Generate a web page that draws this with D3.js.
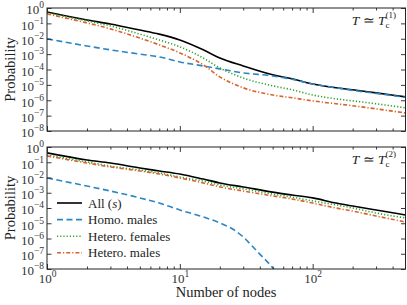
<!DOCTYPE html>
<html>
<head>
<meta charset="utf-8">
<script src="https://cdn.jsdelivr.net/npm/d3@7"></script>
<style>
body { margin:0; background:#fff; }
</style>
</head>
<body>
<svg id="basicSVG" width="407" height="305"></svg>
<script>
// node counts (x values)
var nodes = [1,2,3,5,7,10,15,20,30,50,70,100,150,200,300,500];
var nodesHomo2 = [1,2,3,5,7,10,15,20,25,30,35,40,50,60];

// panel 1 : T ~ Tc(1)
var allTop     = [0.55,0.166,0.091,0.037,0.020,8.3e-3,1.9e-3,5.6e-4,1.7e-4,4.5e-5,2.5e-5,1.15e-5,6.5e-6,4.8e-6,3.0e-6,1.66e-6];
var homoTop    = [9.8e-3,3.4e-3,1.9e-3,1.0e-3,6.6e-4,3.1e-4,1.7e-4,1.1e-4,6.0e-5,3.8e-5,2.3e-5,1.15e-5,6.5e-6,4.4e-6,2.8e-6,1.55e-6];
var femTop     = [0.48,0.145,0.068,0.020,8.3e-3,3.0e-3,5.6e-4,1.26e-4,2.8e-5,8.7e-6,4.8e-6,2.2e-6,1.23e-6,9.1e-7,5.9e-7,3.2e-7];
var maleTop    = [0.41,0.107,0.044,0.011,4.0e-3,1.2e-3,2.0e-4,3.3e-5,6.5e-6,2.2e-6,1.45e-6,9.1e-7,5.9e-7,4.4e-7,2.75e-7,1.5e-7];

// panel 2 : T ~ Tc(2)
var allBot     = [0.41,0.14,0.089,0.042,0.027,0.017,7.9e-3,4.4e-3,2.4e-3,1.1e-3,7.1e-4,4.6e-4,2.1e-4,1.35e-4,7.4e-5,3.5e-5];
var homoBot    = [9.3e-3,2.75e-3,1.3e-3,4.6e-4,2.1e-4,7.4e-5,2.6e-5,1.05e-5,4.2e-6,1.26e-6,3.2e-7,9.5e-8,1.2e-8,1.4e-9];
var femBot     = [0.30,0.105,0.056,0.031,0.020,0.0107,5.9e-3,3.2e-3,1.8e-3,8.3e-4,5.2e-4,2.9e-4,1.6e-4,1.0e-4,4.7e-5,2.2e-5];
var maleBot    = [0.26,0.089,0.049,0.027,0.017,9.3e-3,4.4e-3,2.4e-3,1.3e-3,6.2e-4,3.9e-4,2.1e-4,1.0e-4,6.3e-5,3.0e-5,1.2e-5];

var seriesNames = ["All (s)","Homo. males","Hetero. females","Hetero. males"];
var xTickValues = [1,10,100];
var yTickValues = [1,1e-1,1e-2,1e-3,1e-4,1e-5,1e-6,1e-7,1e-8];

var FONT = "Liberation Serif";

var styles = [
	{color:"#000000", dash:null, w:1.6},
	{color:"#2b86c4", dash:"6,3.5", w:1.6},
	{color:"#2ca02c", dash:"1.2,2", w:1.6},
	{color:"#d9622b", dash:"4,2,1.2,2", w:1.6}
];

var svg = d3.select("#basicSVG");
var x = d3.scaleLog().domain([1,500]).range([47,405.5]);

var panels = [
	{top:8, bottom:131, xs:[nodes,nodes,nodes,nodes], ys:[allTop,homoTop,femTop,maleTop], label:"1", xlabels:false, legend:false},
	{top:147, bottom:269, xs:[nodes,nodesHomo2,nodes,nodes], ys:[allBot,homoBot,femBot,maleBot], label:"2", xlabels:true, legend:true}
];

var minorX = [];
for(var d=1; d<=100; d*=10)
	for(var m=2; m<=9; m++)
		if(d*m<500) minorX.push(d*m);

function supLabel(sel, exp)
{
	sel.text("");
	sel.append("tspan").text("10");
	sel.append("tspan").attr("dy",-6).attr("font-size",9.5).text(exp);
}

panels.forEach(function(p, pi)
{
	var y = d3.scaleLog().domain([1e-8,1]).range([p.bottom,p.top]);
	var g = svg.append("g");

	g.append("clipPath").attr("id","clip"+pi).append("rect")
		.attr("x",47).attr("y",p.top).attr("width",405.5-47).attr("height",p.bottom-p.top);

	var lines = g.append("g").attr("clip-path","url(#clip"+pi+")");
	for(var s=0; s<4; s++)
	{
		var pts = p.xs[s].map(function(n,i){ return [n, p.ys[s][i]]; });
		var line = d3.line()
			.x(function(dd){ return x(dd[0]); })
			.y(function(dd){ return y(dd[1]); })
			.curve(d3.curveMonotoneX);
		lines.append("path").datum(pts)
			.attr("d",line)
			.attr("fill","none")
			.attr("stroke",styles[s].color)
			.attr("stroke-width",styles[s].w)
			.attr("stroke-dasharray",styles[s].dash);
	}

	// ticks, all pointing inward
	var axB = g.append("g").attr("transform","translate(0,"+p.bottom+")")
		.call(d3.axisBottom(x).tickValues(xTickValues).tickSize(-5).tickPadding(3));
	g.append("g").attr("transform","translate(0,"+p.bottom+")")
		.call(d3.axisBottom(x).tickValues(minorX).tickSize(-2.5).tickFormat(""));
	g.append("g").attr("transform","translate(0,"+p.top+")")
		.call(d3.axisTop(x).tickValues(xTickValues).tickSize(-5).tickFormat(""));
	g.append("g").attr("transform","translate(0,"+p.top+")")
		.call(d3.axisTop(x).tickValues(minorX).tickSize(-2.5).tickFormat(""));
	var axL = g.append("g").attr("transform","translate(47,0)")
		.call(d3.axisLeft(y).tickValues(yTickValues).tickSize(-4.5).tickPadding(3));
	g.append("g").attr("transform","translate(405.5,0)")
		.call(d3.axisRight(y).tickValues(yTickValues).tickSize(-4.5).tickFormat(""));

	g.selectAll(".domain").remove();
	g.selectAll(".tick line").attr("stroke","#222").attr("stroke-width",0.9);

	axL.attr("font-family",FONT);
	axL.selectAll(".tick text")
		.attr("font-size",13).attr("fill","#333").attr("dy","0.45em")
		.each(function(v){ supLabel(d3.select(this), v==1 ? "0" : "\u2212"+Math.round(-Math.log10(v))); });

	if(p.xlabels)
	{
		axB.attr("font-family",FONT);
		axB.selectAll(".tick text")
			.attr("font-size",13).attr("fill","#333").attr("dy","0.85em")
			.each(function(v){ supLabel(d3.select(this), String(Math.round(Math.log10(v)))); });
	}
	else axB.selectAll(".tick text").remove();

	g.append("rect").attr("x",47).attr("y",p.top)
		.attr("width",405.5-47).attr("height",p.bottom-p.top)
		.attr("fill","none").attr("stroke","#222").attr("stroke-width",1);

	// y label
	g.append("text")
		.attr("transform","translate(15,"+((p.top+p.bottom)/2)+") rotate(-90)")
		.attr("text-anchor","middle").attr("font-family",FONT).attr("font-size",14.5).attr("fill","#222")
		.text("Probability");

	// temperature annotation
	var ann = g.append("text").attr("x",396).attr("y",p.top+17)
		.attr("text-anchor","end").attr("font-family",FONT).attr("font-size",13.5).attr("fill","#222");
	ann.append("tspan").attr("font-style","italic").text("T");
	ann.append("tspan").text(" \u2243 ");
	ann.append("tspan").attr("font-style","italic").text("T");
	ann.append("tspan").attr("font-size",9).attr("dy",3).text("c");
	ann.append("tspan").attr("font-size",9).attr("dx",-4).attr("dy",-10).text("("+p.label+")");

	if(p.legend)
	{
		var leg = g.append("g").attr("font-family",FONT);
		seriesNames.forEach(function(name, i)
		{
			var ly = 203 + i*16.6;
			leg.append("line").attr("x1",57).attr("x2",82).attr("y1",ly).attr("y2",ly)
				.attr("stroke",styles[i].color).attr("stroke-width",styles[i].w)
				.attr("stroke-dasharray",styles[i].dash);
			var t = leg.append("text").attr("x",88).attr("y",ly+4.5)
				.attr("font-size",13).attr("fill","#222");
			if(i==0)
			{
				t.append("tspan").text("All (");
				t.append("tspan").attr("font-style","italic").text("s");
				t.append("tspan").text(")");
			}
			else t.text(name);
		});
	}
});

svg.append("text").attr("x",226).attr("y",297)
	.attr("text-anchor","middle").attr("font-family",FONT).attr("font-size",14.5).attr("fill","#222")
	.text("Number of nodes");
</script>
</body>
</html>
